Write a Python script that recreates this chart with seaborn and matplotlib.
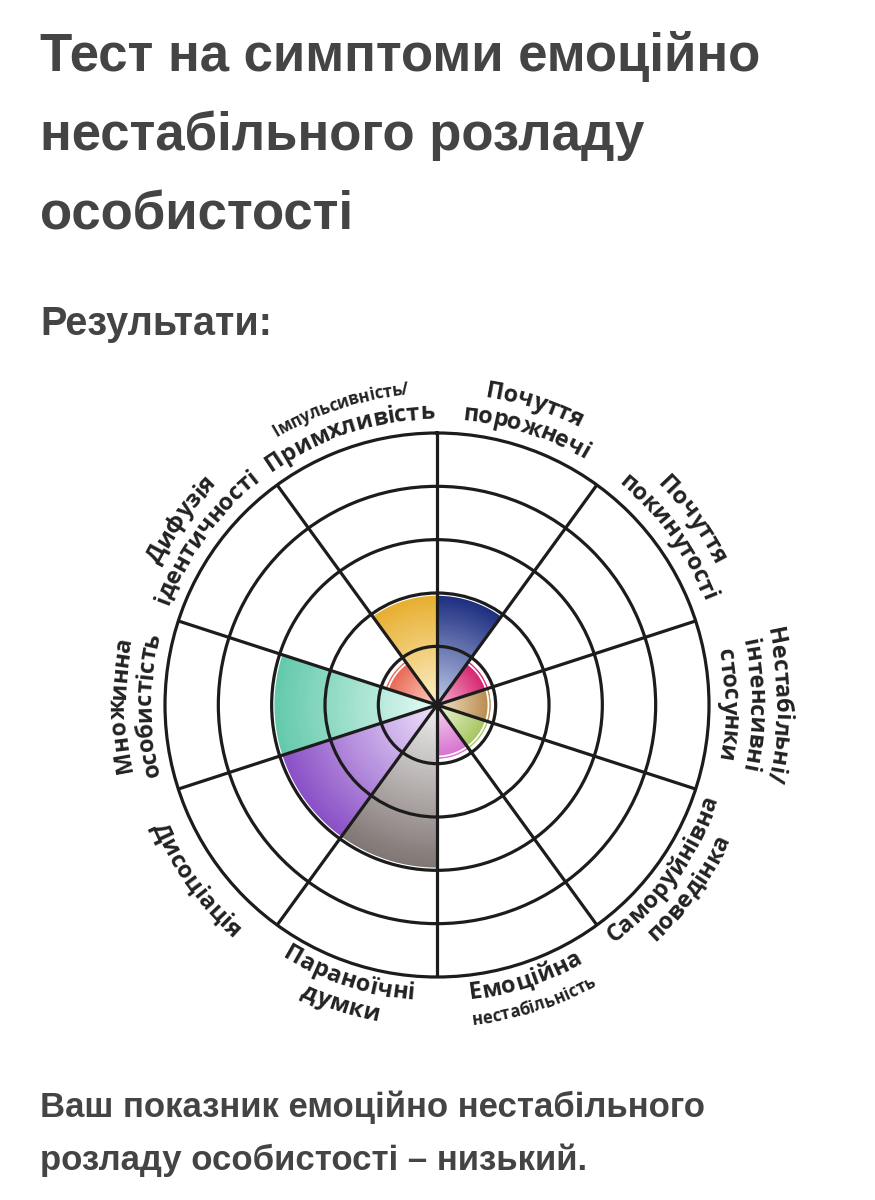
import numpy as np
import matplotlib.pyplot as plt
import seaborn as sns
from matplotlib.font_manager import FontProperties

sns.set_theme(style="white")
plt.rcParams['font.family'] = ['Liberation Sans', 'DejaVu Sans']

# --- data ---
CATEGORIES = [
    'Почуття порожнечі', 'Почуття покинутості', 'Нестабільні/інтенсивні стосунки',
    'Саморуйнівна поведінка', 'Емоційна нестабільність', 'Параноїчні думки',
    'Дисоціація', 'Множинна особистість', 'Дифузія ідентичності',
    'Імпульсивність/Примхливість',
]
SCORES = [2, 0.9, 0.9, 0.9, 0.9, 3, 3, 3, 0.9, 2]

# label lines, innermost line first
LABEL_LINES = [
    ['порожнечі', 'Почуття'],
    ['покинутості', 'Почуття'],
    ['стосунки', 'інтенсивні', 'Нестабільні/'],
    ['Саморуйнівна', 'поведінка'],
    ['Емоційна', 'нестабільність'],
    ['Параноїчні', 'думки'],
    ['Дисоціація'],
    ['особистість', 'Множинна'],
    ['ідентичності', 'Дифузія'],
    ['Примхливість', 'Імпульсивність/'],
]
SMALL_LINES = ['нестабільність', 'Імпульсивність/']

OUTER_COLORS = ['#1b2c7e', '#d6206e', '#b98a4c', '#a6c45c', '#d76fcf',
                '#7f7573', '#8a4fc6', '#62c9ab', '#e96552', '#e7ae2e']
INNER_COLORS = ['#bfcaea', '#f4b4cf', '#f3e3ca', '#eff5d8', '#f7d8f2',
                '#eeeded', '#eee2fb', '#e6fbf5', '#fad3c5', '#fcf0c8']

TITLE_LINES = ['Тест на симптоми емоційно', 'нестабільного розладу', 'особистості']
SUBTITLE = 'Результати:'
RESULT_LINES = ['Ваш показник емоційно нестабільного', 'розладу особистості – низький.']

# --- layout ---
W, H = 875, 1200
CX, CY, R_OUT = 437, 705, 272
R_MIN, R_MAX = -0.1, 5
TEXT_COLOR = '#444444'
LINE_COLOR = '#1c1c1c'
LABEL_COLOR = '#222222'


def px_to_r(px):
    return R_MIN + px / R_OUT * (R_MAX - R_MIN)


fig = plt.figure(figsize=(W / 100, H / 100), dpi=100)
fig.patch.set_facecolor('white')

for text, base in zip(TITLE_LINES, [71, 150, 230]):
    fig.text(40 / W, 1 - base / H, text, fontsize=38, fontweight='bold',
             color=TEXT_COLOR, va='baseline')
fig.text(40 / W, 1 - 335 / H, SUBTITLE, fontsize=28.5, fontweight='bold',
         color=TEXT_COLOR, va='baseline')
for text, base in zip(RESULT_LINES, [1117, 1170]):
    fig.text(40 / W, 1 - base / H, text, fontsize=25, fontweight='bold',
             color=TEXT_COLOR, va='baseline')

ax = fig.add_axes([(CX - R_OUT) / W, (H - CY - R_OUT) / H, 2 * R_OUT / W, 2 * R_OUT / H],
                  projection='polar')
ax.set_theta_zero_location('N')
ax.set_theta_direction(-1)
ax.set_ylim(R_MIN, R_MAX)
ax.set_facecolor('white')

n_cat = len(CATEGORIES)
width = 2 * np.pi / n_cat
centers = np.arange(n_cat) * width + width / 2

# gradient sectors
steps = 40
for i, (theta, score) in enumerate(zip(centers, SCORES)):
    pal = sns.blend_palette([INNER_COLORS[i], OUTER_COLORS[i]], n_colors=steps)
    edges = np.linspace(R_MIN, score, steps + 1)
    ax.bar([theta] * steps, np.diff(edges), bottom=edges[:-1], width=width,
           color=pal, edgecolor=pal, linewidth=0.6, zorder=1)
    arc = np.linspace(theta - width / 2, theta + width / 2, 60)
    ax.plot(arc, [score - 0.035] * len(arc), color='white', lw=1.3, zorder=1.5)

ax.set_xticks(np.arange(n_cat) * width)
ax.set_xticklabels([])
ax.set_yticks([1, 2, 3, 4])
ax.set_yticklabels([])
ax.set_axisbelow(False)
ax.grid(True, color=LINE_COLOR, lw=2.3)
ax.spines['polar'].set_color(LINE_COLOR)
ax.spines['polar'].set_linewidth(2.3)
ax.plot([0], [R_MIN], 'o', color=LINE_COLOR, ms=5, zorder=5, clip_on=False)

# curved labels
renderer = fig.canvas.get_renderer()
fp_big = FontProperties(family='Open Sans', weight='bold', size=17)
fp_small = FontProperties(family='Open Sans', weight='bold', size=12)


def text_width(s, fp):
    if not s:
        return 0.0
    w, _, _ = renderer.get_text_width_height_descent(s, fp, ismath=False)
    return w


def arc_text(s, center_deg, base_px, fp, upper):
    total = text_width(s, fp)
    mid_px = base_px + (6 if upper else -6)
    for k, ch in enumerate(s):
        c = (text_width(s[:k], fp) + text_width(s[:k + 1], fp)) / 2
        off = (c - total / 2) / mid_px
        if upper:
            phi = np.deg2rad(center_deg) + off
            rot = -np.rad2deg(phi)
        else:
            phi = np.deg2rad(center_deg) - off
            rot = 180 - np.rad2deg(phi)
        ax.text(phi, px_to_r(base_px), ch, fontproperties=fp, rotation=rot,
                rotation_mode='anchor', ha='center', va='baseline',
                color=LABEL_COLOR, clip_on=False)


for i, lines in enumerate(LABEL_LINES):
    center_deg = np.rad2deg(centers[i])
    upper = center_deg < 100 or center_deg > 260
    base = 286 if upper else 296
    if len(lines) == 1:
        base += 14
    for line in lines:
        fp = fp_small if line in SMALL_LINES else fp_big
        arc_text(line, center_deg, base, fp, upper)
        base += 26

fig.savefig('out.png', dpi=100, facecolor='white')
